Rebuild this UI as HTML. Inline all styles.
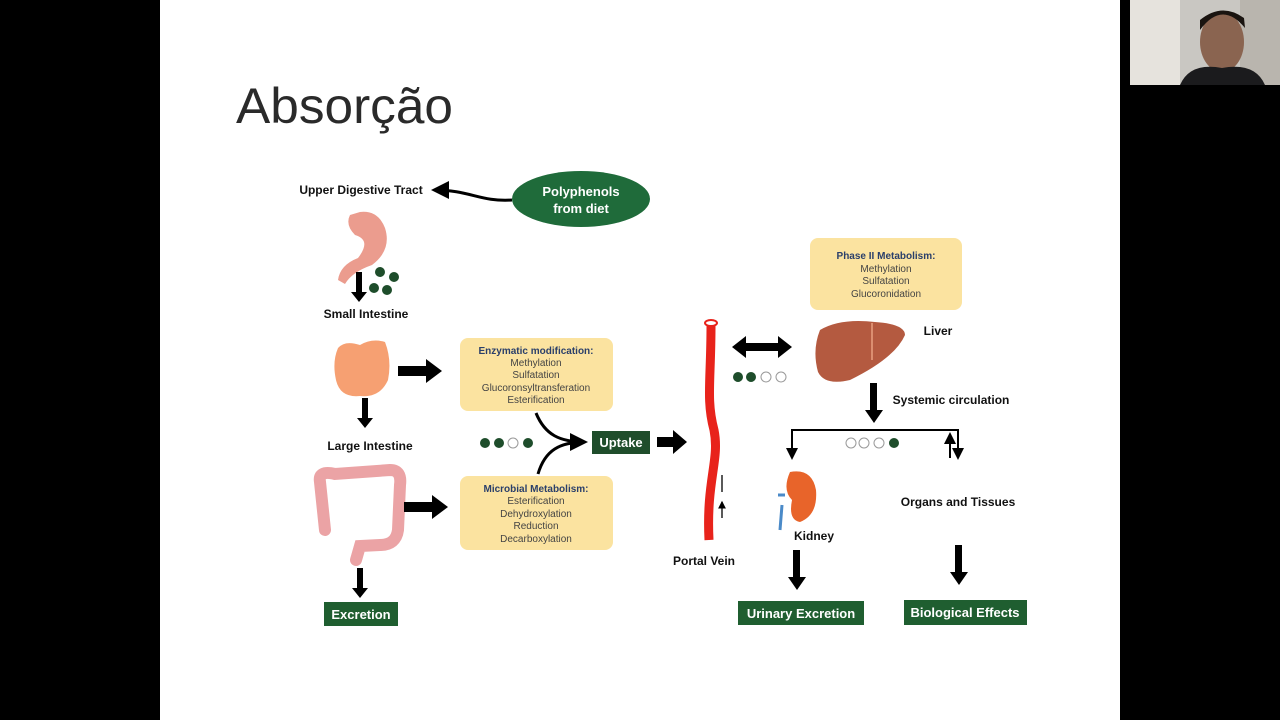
<!DOCTYPE html>
<html><head><meta charset="utf-8"><style>
html,body{margin:0;padding:0;background:#000;}
svg{display:block;font-family:"Liberation Sans",sans-serif;}
.b{font-weight:bold;font-size:12px;fill:#111;text-anchor:middle;}
.s{font-size:10px;fill:#444;text-anchor:middle;}
.h{font-weight:bold;font-size:10px;fill:#2a3f6a;text-anchor:middle;}
.g{font-weight:bold;font-size:13px;fill:#fff;text-anchor:middle;}
</style></head><body>
<svg width="1280" height="720" viewBox="0 0 1280 720">
<defs>
<marker id="ah" markerWidth="6" markerHeight="6" refX="5" refY="3" orient="auto"><path d="M0,0L6,3L0,6z" fill="#000"/></marker>
</defs>
<rect x="0" y="0" width="1280" height="720" fill="#000"/>
<rect x="160" y="0" width="960" height="720" fill="#fff"/>
<!-- webcam -->
<rect x="1130" y="0" width="150" height="85" fill="#c9c7c2"/>
<rect x="1130" y="0" width="50" height="85" fill="#e6e3dd"/>
<rect x="1240" y="0" width="40" height="85" fill="#b9b5ae"/>
<ellipse cx="1222" cy="42" rx="22" ry="30" fill="#8a6450"/>
<path d="M1200,30 Q1222,0 1245,28 L1244,18 Q1222,2 1200,20z" fill="#1a1410"/>
<path d="M1180,85 Q1190,62 1222,68 Q1255,62 1265,85z" fill="#1b1b1d"/>
<text x="236" y="123" font-size="50" fill="#2a2a2a" textLength="217" lengthAdjust="spacingAndGlyphs">Absorção</text>
<!-- top -->
<text x="361" y="194" class="b">Upper Digestive Tract</text>
<path d="M512,200 C480,202 470,190 434,190" stroke="#000" stroke-width="3" fill="none" marker-end="url(#ah)"/>
<ellipse cx="581" cy="199" rx="69" ry="28" fill="#1f6b3a"/>
<text x="581" y="196" class="g">Polyphenols</text>
<text x="581" y="213" class="g">from diet</text>
<!-- stomach -->
<path d="M350,215 Q345,225 355,235 Q372,240 358,258 Q340,265 338,280 L345,284 Q352,272 372,265 Q392,250 385,228 Q378,210 360,212z" fill="#eb9c8e"/>
<g fill="#1e4d2b"><circle cx="380" cy="272" r="5"/><circle cx="394" cy="277" r="5"/><circle cx="374" cy="288" r="5"/><circle cx="387" cy="290" r="5"/></g>
<path d="M356,272h6v20h5l-8,10l-8,-10h5z" fill="#000"/>
<text x="366" y="318" class="b">Small Intestine</text>
<!-- small intestine -->
<path d="M338,348 Q345,340 360,345 Q372,338 385,342 Q392,360 388,380 Q380,398 360,396 Q340,398 336,380 Q332,362 338,348z" fill="#f6a072"/>
<path d="M398,366h28v-7l16,12l-16,12v-7h-28z" fill="#000"/>
<path d="M362,398h6v20h5l-8,10l-8,-10h5z" fill="#000"/>
<text x="370" y="450" class="b">Large Intestine</text>
<!-- large intestine -->
<path d="M320,482 Q318,470 335,474 L390,470 Q402,470 400,485 L398,530 Q396,545 380,545 L360,546 L356,560 M320,482 L325,530" stroke="#eba3a5" stroke-width="12" fill="none" stroke-linecap="round"/>
<path d="M404,502h28v-7l16,12l-16,12v-7h-28z" fill="#000"/>
<path d="M357,568h6v20h5l-8,10l-8,-10h5z" fill="#000"/>
<rect x="324" y="602" width="74" height="24" fill="#1f5e30"/>
<text x="361" y="619" class="g">Excretion</text>
<!-- yellow boxes -->
<rect x="460" y="338" width="153" height="73" rx="8" fill="#fbe3a0"/>
<text x="536" y="354" class="h">Enzymatic modification:</text>
<text x="536" y="366" class="s">Methylation</text>
<text x="536" y="378" class="s">Sulfatation</text>
<text x="536" y="391" class="s">Glucoronsyltransferation</text>
<text x="536" y="403" class="s">Esterification</text>
<rect x="460" y="476" width="153" height="74" rx="8" fill="#fbe3a0"/>
<text x="536" y="492" class="h">Microbial Metabolism:</text>
<text x="536" y="504" class="s">Esterification</text>
<text x="536" y="517" class="s">Dehydroxylation</text>
<text x="536" y="529" class="s">Reduction</text>
<text x="536" y="542" class="s">Decarboxylation</text>
<g fill="#1e4d2b"><circle cx="485" cy="443" r="5"/><circle cx="499" cy="443" r="5"/><circle cx="513" cy="443" r="5" fill="#fff" stroke="#999"/><circle cx="528" cy="443" r="5"/></g>
<path d="M536,413 C545,435 560,442 585,442 M538,474 C545,450 560,442 585,442" stroke="#000" stroke-width="3" fill="none" marker-end="url(#ah)"/>
<rect x="592" y="431" width="58" height="23" fill="#1f4d2b"/>
<text x="621" y="447" class="g">Uptake</text>
<path d="M657,437h16v-7l14,12l-14,12v-7h-16z" fill="#000"/>
<!-- vein -->
<path d="M711,326 C711,380 706,400 714,430 C720,460 706,480 709,540" stroke="#e8231b" stroke-width="9" fill="none"/>
<ellipse cx="711" cy="323" rx="6" ry="3" fill="#fff" stroke="#e8231b" stroke-width="2"/>
<path d="M722,492V475M722,518V502" stroke="#000" stroke-width="1.3" marker-end="url(#ah)"/>
<text x="704" y="565" class="b">Portal Vein</text>
<path d="M732,347l14,-11v7h32v-7l14,11l-14,11v-7h-32v7z" fill="#000"/>
<g fill="#1e4d2b"><circle cx="738" cy="377" r="5"/><circle cx="751" cy="377" r="5"/><circle cx="766" cy="377" r="5" fill="#fff" stroke="#999"/><circle cx="781" cy="377" r="5" fill="#fff" stroke="#999"/></g>
<!-- liver -->
<rect x="810" y="238" width="152" height="72" rx="8" fill="#fbe3a0"/>
<text x="886" y="259" class="h">Phase II Metabolism:</text>
<text x="886" y="272" class="s">Methylation</text>
<text x="886" y="284" class="s">Sulfatation</text>
<text x="886" y="297" class="s">Glucoronidation</text>
<path d="M820,330 Q840,318 875,322 Q905,324 905,335 Q895,358 850,380 Q825,386 818,372 Q812,350 820,330z" fill="#b45a40"/>
<path d="M872,323 L872,360" stroke="#e8a080" stroke-width="1.5"/>
<text x="938" y="335" class="b">Liver</text>
<path d="M870,383h7v27h6l-9,13l-9,-13h5z" fill="#000"/>
<text x="951" y="404" class="b">Systemic circulation</text>
<path d="M792,458V430H958V458" stroke="#000" stroke-width="2" fill="none" marker-end="url(#ah)"/>
<path d="M792,430V458" stroke="#000" stroke-width="2" marker-end="url(#ah)"/>
<path d="M950,458V434" stroke="#000" stroke-width="2" marker-end="url(#ah)"/>
<g fill="#fff" stroke="#999"><circle cx="851" cy="443" r="5"/><circle cx="864" cy="443" r="5"/><circle cx="879" cy="443" r="5"/><circle cx="894" cy="443" r="5" fill="#1e4d2b" stroke="none"/></g>
<!-- kidney -->
<path d="M790,472 Q812,468 816,490 Q818,515 800,522 Q788,520 792,500 Q782,490 790,472z" fill="#e8642a"/>
<path d="M785,495 L778,495 M782,505 L780,530" stroke="#4a8ac8" stroke-width="3"/>
<text x="814" y="540" class="b">Kidney</text>
<text x="958" y="506" class="b">Organs and Tissues</text>
<path d="M793,550h7v27h6l-9,13l-9,-13h5z" fill="#000"/>
<path d="M955,545h7v27h6l-9,13l-9,-13h5z" fill="#000"/>
<rect x="738" y="601" width="126" height="24" fill="#1f5e30"/>
<text x="801" y="618" class="g">Urinary Excretion</text>
<rect x="904" y="600" width="123" height="25" fill="#1f5e30"/>
<text x="965" y="617" class="g">Biological Effects</text>
</svg>
</body></html>
